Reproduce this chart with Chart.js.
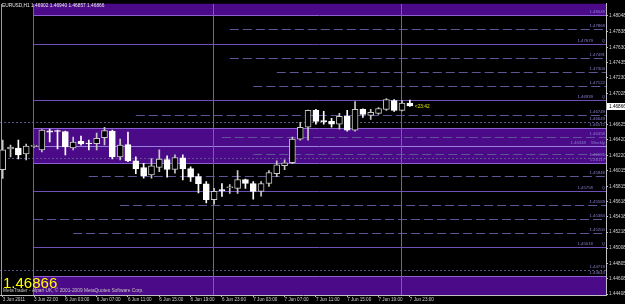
<!DOCTYPE html>
<html>
<head>
<meta charset="utf-8">
<script src="https://cdn.jsdelivr.net/npm/chart.js@4.4.0/dist/chart.umd.min.js"></script>
<style>
  html, body { margin: 0; padding: 0; background: #000; overflow: hidden; }
  #wrap { width: 625px; height: 304px; position: relative; }
</style>
</head>
<body>
<div id="wrap"><canvas id="myChart"></canvas></div>
<script>
// EURUSD H1, 3 Jun 2011 18:00 .. 7 Jun 2011 23:00
const barTimes = [
  '3 Jun 18:00', '3 Jun 19:00', '3 Jun 20:00', '3 Jun 21:00', '3 Jun 22:00', '3 Jun 23:00',
  '6 Jun 01:00', '6 Jun 02:00', '6 Jun 03:00', '6 Jun 04:00', '6 Jun 05:00', '6 Jun 06:00',
  '6 Jun 07:00', '6 Jun 08:00', '6 Jun 09:00', '6 Jun 10:00', '6 Jun 11:00', '6 Jun 12:00',
  '6 Jun 13:00', '6 Jun 14:00', '6 Jun 15:00', '6 Jun 16:00', '6 Jun 17:00', '6 Jun 18:00',
  '6 Jun 19:00', '6 Jun 20:00', '6 Jun 21:00', '6 Jun 22:00', '6 Jun 23:00',
  '7 Jun 00:00', '7 Jun 01:00', '7 Jun 02:00', '7 Jun 03:00', '7 Jun 04:00', '7 Jun 05:00',
  '7 Jun 06:00', '7 Jun 07:00', '7 Jun 08:00', '7 Jun 09:00', '7 Jun 10:00', '7 Jun 11:00',
  '7 Jun 12:00', '7 Jun 13:00', '7 Jun 14:00', '7 Jun 15:00', '7 Jun 16:00', '7 Jun 17:00',
  '7 Jun 18:00', '7 Jun 19:00', '7 Jun 20:00', '7 Jun 21:00', '7 Jun 22:00', '7 Jun 23:00'
];

const opens = [1.46033, 1.46303, 1.46316, 1.46239, 1.46336, 1.46290, 1.46539, 1.46535, 1.46531, 1.46316,
  1.46403, 1.46374, 1.46371, 1.46449, 1.46535, 1.46200, 1.46359, 1.46148, 1.46058, 1.45964,
  1.46062, 1.46165, 1.46036, 1.46187, 1.46045, 1.45942, 1.45848, 1.45642, 1.45762, 1.45796,
  1.45788, 1.45904, 1.45852, 1.45749, 1.45852, 1.45981, 1.46084, 1.46123, 1.46432, 1.46587,
  1.46806, 1.46664, 1.46664, 1.46626, 1.46729, 1.46548, 1.46819, 1.46742, 1.46768, 1.46819,
  1.46935, 1.46806, 1.46902];
const highs = [1.46419, 1.46355, 1.46419, 1.46368, 1.46355, 1.46555, 1.46561, 1.46548, 1.46535, 1.46458,
  1.46471, 1.46419, 1.46510, 1.46587, 1.46548, 1.46432, 1.46522, 1.46200, 1.46114, 1.46178,
  1.46290, 1.46213, 1.46226, 1.46226, 1.46071, 1.45977, 1.45878, 1.45788, 1.45852, 1.45839,
  1.46020, 1.45910, 1.45878, 1.45878, 1.46020, 1.46149, 1.46162, 1.46458, 1.46651, 1.46812,
  1.46819, 1.46793, 1.46703, 1.46768, 1.46806, 1.46922, 1.46826, 1.46819, 1.46845, 1.46961,
  1.46948, 1.46935, 1.46940];
const lows = [1.45917, 1.46200, 1.46174, 1.46161, 1.46323, 1.46265, 1.46394, 1.46303, 1.46226, 1.46290,
  1.46351, 1.46290, 1.46290, 1.46355, 1.46174, 1.46161, 1.46136, 1.45981, 1.45920, 1.45920,
  1.46007, 1.45933, 1.45985, 1.45900, 1.45878, 1.45727, 1.45598, 1.45581, 1.45684, 1.45723,
  1.45723, 1.45788, 1.45646, 1.45685, 1.45813, 1.45942, 1.46033, 1.46110, 1.46419, 1.46419,
  1.46626, 1.46626, 1.46587, 1.46561, 1.46535, 1.46535, 1.46716, 1.46690, 1.46755, 1.46806,
  1.46793, 1.46800, 1.46857];
const closes = [1.46290, 1.46329, 1.46226, 1.46342, 1.46342, 1.46548, 1.46522, 1.46531, 1.46329, 1.46394,
  1.46368, 1.46368, 1.46441, 1.46544, 1.46200, 1.46355, 1.46145, 1.46041, 1.45955, 1.46084,
  1.46171, 1.46036, 1.46191, 1.46041, 1.45933, 1.45848, 1.45642, 1.45749, 1.45758, 1.45801,
  1.45904, 1.45852, 1.45749, 1.45852, 1.45994, 1.46097, 1.46123, 1.46432, 1.46587, 1.46806,
  1.46664, 1.46660, 1.46626, 1.46729, 1.46548, 1.46819, 1.46755, 1.46780, 1.46832, 1.46948,
  1.46806, 1.46902, 1.46866];

const timeTickIdx = [0, 4, 8, 12, 16, 20, 24, 28, 32, 36, 40, 44, 48, 52];
const timeTickText = ['3 Jun 2011', '3 Jun 22:00', '6 Jun 03:00', '6 Jun 07:00', '6 Jun 11:00',
  '6 Jun 15:00', '6 Jun 19:00', '6 Jun 23:00', '7 Jun 03:00', '7 Jun 07:00', '7 Jun 11:00',
  '7 Jun 15:00', '7 Jun 19:00', '7 Jun 23:00'];
const priceTicks = [1.48048, 1.47838, 1.47630, 1.47435, 1.47230, 1.47028, 1.46825, 1.46625, 1.46420,
  1.46220, 1.46015, 1.45815, 1.45618, 1.45418, 1.45218, 1.45008, 1.44805, 1.44608, 1.44408];

// indicator levels
const zoneLow = [1.48048, 1.46117, 1.44200];
const zoneHigh = [1.48400, 1.46572, 1.44643];
const zoneFrom = 4;
const solidLevels = [1.47679, 1.46939, 1.46348, 1.45758, 1.45018];
const solidTags = ['Q', 'Q', 'Weekly', 'Q', 'Q'];
const dashedLevels = [1.47868, 1.47491, 1.47304, 1.47122, 1.46749, 1.46458, 1.46235, 1.45948, 1.45569, 1.45384, 1.45200];
const dashedFrom = [29, 29, 35, 32, 17, 28, 32, 11, 15, 4, 9];
const dashedShowLabel = [true, true, true, true, true, true, false, true, true, true, true];
const dottedLevels = [1.46649, 1.46181, 1.44719];

const symbolTitle = 'EURUSD,H1';
const countdown = '<23:42';
const copyright = 'MetaTrader - Alpari UK, \u00a9 2001-2009 MetaQuotes Software Corp.';

const FONT = '"Liberation Sans", Arial, sans-serif';
const last = closes.length - 1;
const isUp = opens.map((o, i) => closes[i] > o);

function hLine(ctx, x0, x1, yy, color, dash) {
  const py = Math.round(yy) + 0.5;
  ctx.strokeStyle = color;
  ctx.setLineDash(dash);
  ctx.lineWidth = 1;
  ctx.beginPath();
  ctx.moveTo(x0, py);
  ctx.lineTo(x1, py);
  ctx.stroke();
}

function levelLabel(ctx, text, xr, yy, color) {
  ctx.fillStyle = color;
  ctx.textAlign = 'right';
  ctx.textBaseline = 'bottom';
  ctx.fillText(text, xr, Math.round(yy));
}

const levelsPlugin = {
  id: 'levels',
  beforeDatasetsDraw(chart) {
    const { ctx, chartArea: a, scales: { x, y } } = chart;
    ctx.save();
    ctx.beginPath();
    ctx.rect(a.left, a.top, a.right - a.left, a.bottom - a.top);
    ctx.clip();
    const zx = Math.round(x.getPixelForValue(zoneFrom)) - 1;

    // zones
    zoneLow.forEach((lo, i) => {
      const yTop = y.getPixelForValue(zoneHigh[i]);
      const yBot = y.getPixelForValue(lo);
      ctx.fillStyle = '#4b0a87';
      ctx.fillRect(zx, yTop, a.right - zx, yBot - yTop);
      [lo, zoneHigh[i]].forEach(v => {
        if (v > y.min && v < y.max) hLine(ctx, zx, a.right, y.getPixelForValue(v), '#8a62cf', []);
      });
    });

    dottedLevels.forEach(v => hLine(ctx, a.left, a.right, y.getPixelForValue(v), '#5d5288', [2, 2]));
    dashedLevels.forEach((v, i) => {
      hLine(ctx, x.getPixelForValue(dashedFrom[i]), a.right, y.getPixelForValue(v), '#5f5596', [9, 4]);
    });
    solidLevels.forEach((v, i) => {
      const c = solidTags[i] === 'Weekly' ? '#9a7fe0' : '#6a50b8';
      hLine(ctx, zx, a.right, y.getPixelForValue(v), c, []);
    });

    // day separators
    ctx.setLineDash([]);
    barTimes.forEach((t, i) => {
      if (t.endsWith('22:00')) {
        const px = Math.round(x.getPixelForValue(i)) - 0.5;
        ctx.strokeStyle = '#6e6e6e';
        ctx.beginPath();
        ctx.moveTo(px, a.top);
        ctx.lineTo(px, a.bottom);
        ctx.stroke();
      }
    });
    ctx.strokeStyle = '#9a9a9a';
    ctx.beginPath();
    ctx.moveTo(1.5, a.top);
    ctx.lineTo(1.5, a.bottom);
    ctx.stroke();
    ctx.restore();
  },
  afterDraw(chart) {
    const { ctx, chartArea: a, scales: { x, y } } = chart;
    ctx.save();
    ctx.font = '4.3px ' + FONT;
    const labCol = '#8b7bd0';
    const xr = a.right - 1;

    zoneLow.forEach((lo, i) => {
      [lo, zoneHigh[i]].forEach(v => {
        if (v > y.min && v < y.max) levelLabel(ctx, v.toFixed(5), xr, y.getPixelForValue(v) - 1, labCol);
      });
    });
    dottedLevels.forEach(v => levelLabel(ctx, v.toFixed(5), xr, y.getPixelForValue(v) - 1, labCol));
    dashedLevels.forEach((v, i) => {
      if (dashedShowLabel[i]) levelLabel(ctx, v.toFixed(5), xr, y.getPixelForValue(v) - 1, labCol);
    });
    solidLevels.forEach((v, i) => {
      const tag = solidTags[i];
      const py = y.getPixelForValue(v) - 1;
      levelLabel(ctx, tag, xr, py, labCol);
      levelLabel(ctx, v.toFixed(5), tag === 'Weekly' ? xr - 19 : xr - 12, py, labCol);
    });

    // header
    ctx.font = '4.8px ' + FONT;
    ctx.textAlign = 'left';
    ctx.textBaseline = 'alphabetic';
    ctx.fillStyle = '#e8e8e8';
    ctx.fillText(symbolTitle + ' ' + [opens[last], highs[last], lows[last], closes[last]].map(v => v.toFixed(5)).join(' '), 2, 7);

    // countdown next to the last bar
    const yLast = y.getPixelForValue(closes[last]);
    ctx.fillStyle = '#e6e600';
    ctx.fillText(countdown, x.getPixelForValue(last) + 5, yLast + 2);

    // big bid
    ctx.font = '15px ' + FONT;
    ctx.fillStyle = '#ffff00';
    ctx.fillText(closes[last].toFixed(5), 3, 288);

    // copyright
    ctx.font = '4.8px ' + FONT;
    ctx.fillStyle = '#c4c4c4';
    ctx.fillText(copyright, 3, 292);

    // current price box on the axis
    ctx.fillStyle = '#ffffff';
    ctx.fillRect(a.right + 1, Math.round(yLast) - 3, 24, 7);
    ctx.fillStyle = '#000000';
    ctx.font = '4.7px ' + FONT;
    ctx.textBaseline = 'middle';
    ctx.fillText(closes[last].toFixed(5), a.right + 3, Math.round(yLast) + 0.5);
    ctx.restore();
  }
};

const idx = opens.map((_, i) => i);
const ctx = document.getElementById('myChart');

new Chart(ctx, {
  type: 'bar',
  data: {
    datasets: [{
      label: 'body',
      order: 0,
      data: idx.map(i => ({ x: i, y: [opens[i], closes[i]] })),
      backgroundColor: isUp.map(u => u ? '#000000' : '#ffffff'),
      borderColor: isUp.map(u => u ? '#c8c8c8' : '#ffffff'),
      borderWidth: 1,
      borderSkipped: false,
      barThickness: 6,
      minBarLength: 1
    }, {
      label: 'wick',
      order: 1,
      data: idx.map(i => ({ x: i, y: [lows[i], highs[i]] })),
      backgroundColor: isUp.map(u => u ? '#c8c8c8' : '#ffffff'),
      borderWidth: 0,
      barThickness: 1,
      minBarLength: 1
    }]
  },
  options: {
    responsive: true,
    maintainAspectRatio: false,
    animation: false,
    grouped: false,
    layout: { padding: 0 },
    plugins: { legend: { display: false }, tooltip: { enabled: false } },
    scales: {
      x: {
        type: 'linear',
        offset: false,
        min: -0.345,
        max: 77.05,
        afterBuildTicks: s => { s.ticks = timeTickIdx.map(v => ({ value: v })); },
        afterFit: s => { s.height = 9; },
        ticks: {
          autoSkip: false,
          maxRotation: 0,
          align: 'start',
          padding: 0,
          color: '#d0d0d0',
          font: { family: FONT, size: 4.6 },
          callback: v => timeTickText[timeTickIdx.indexOf(v)]
        },
        grid: { offset: false, drawOnChartArea: false, tickLength: 2, color: '#c0c0c0' },
        border: { color: '#c0c0c0' }
      },
      y: {
        type: 'linear',
        position: 'right',
        min: 1.44395,
        max: 1.48199,
        afterBuildTicks: s => { s.ticks = priceTicks.map(v => ({ value: v })); },
        afterFit: s => { s.width = 19; },
        ticks: {
          padding: 1,
          color: '#d0d0d0',
          font: { family: FONT, size: 4.7 },
          callback: v => v.toFixed(5)
        },
        grid: { drawOnChartArea: false, tickLength: 2, color: '#c0c0c0' },
        border: { color: '#c0c0c0' }
      }
    }
  },
  plugins: [levelsPlugin]
});
</script>
</body>
</html>
